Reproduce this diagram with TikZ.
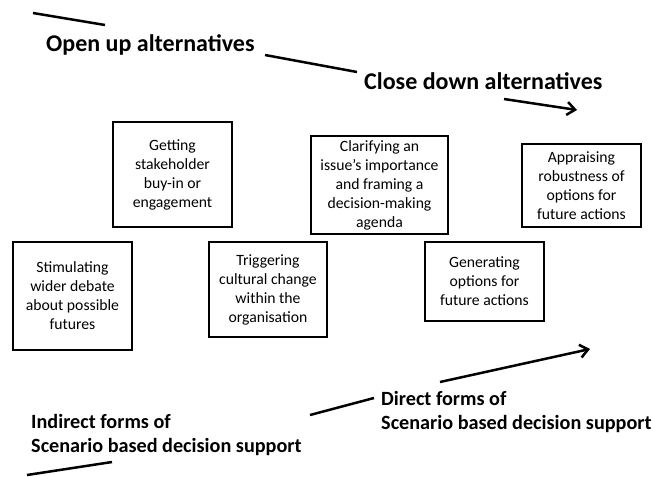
\documentclass[tikz,border=0pt]{standalone}
\usepackage{fontspec}
\setmainfont{Carlito}
\usetikzlibrary{arrows.meta}

\begin{document}
\begin{tikzpicture}[x=1pt, y=-1pt,
  box/.style={draw, line width=1.3pt, align=center, inner sep=2pt,
    font=\fontsize{15.7}{19}\selectfont},
  heading/.style={inner sep=0pt, align=left,
    font=\fontsize{24}{28}\selectfont\bfseries},
  subheading/.style={heading, font=\fontsize{20.2}{23.5}\selectfont\bfseries},
  pen/.style={line width=2.5pt},
  penarrow/.style={pen, -{Straight Barb[length=8pt, width=13pt]}}]
\useasboundingbox (0,0) rectangle (652,476);

% Top: open up / close down
\coordinate (o1) at (33,13);
\coordinate (o2) at (105,25);
\coordinate (c1) at (265,55);
\coordinate (c2) at (357,72);
\coordinate (a1) at (504,99);
\coordinate (a2) at (577,110);
\draw[pen] (o1) -- (o2);
\node[heading, anchor=base west] (open) at (46,52) {Open up alternatives};
\draw[pen] (c1) -- (c2);
\node[heading, anchor=base west] (close) at (364,89) {Close down alternatives};
\draw[penarrow] (a1) -- (a2);

% Purposes of scenario work
\node[box, minimum width=119pt, minimum height=105pt] (get) at (172.5,174.5)
  {Getting\\stakeholder\\buy-in or\\engagement};
\node[box, minimum width=119pt, minimum height=108pt] (stim) at (72.5,296)
  {Stimulating\\wider debate\\about possible\\futures};
\node[box, minimum width=118pt, minimum height=95pt] (trig) at (268,289.5)
  {Triggering\\cultural change\\within the\\organisation};
\node[box, minimum width=137pt, minimum height=98pt] (clar) at (379.5,185)
  {Clarifying an\\issue’s importance\\and framing a\\decision-making\\agenda};
\node[box, minimum width=119pt, minimum height=83pt] (appr) at (581.5,185.5)
  {Appraising\\robustness of\\options for\\future actions};
\node[box, minimum width=119pt, minimum height=79pt] (gen) at (484.5,281.5)
  {Generating\\options for\\future actions};

% Bottom: indirect / direct forms
\coordinate (i1) at (27,475);
\coordinate (i2) at (112,462);
\coordinate (d1) at (310,415);
\coordinate (d2) at (374,398);
\coordinate (b1) at (440,382);
\coordinate (b2) at (590,349);
\draw[pen] (i1) -- (i2);
\node[subheading, anchor=base west] (indirect) at (31,452)
  {Indirect forms of\\Scenario based decision support};
\draw[pen] (d1) -- (d2);
\node[subheading, anchor=base west] (direct) at (381,429)
  {Direct forms of\\Scenario based decision support};
\draw[penarrow] (b1) -- (b2);

\end{tikzpicture}
\end{document}
